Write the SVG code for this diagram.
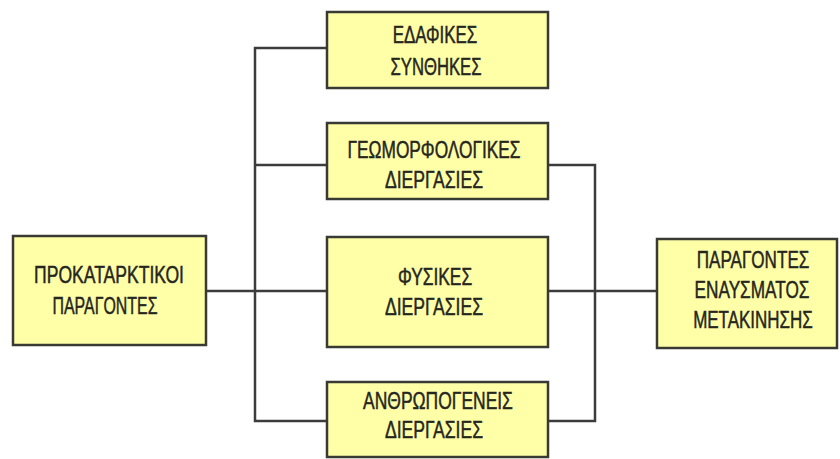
<svg xmlns="http://www.w3.org/2000/svg" width="840" height="459" viewBox="0 0 840 459">
<style>
.box{fill:#FFFFA8;stroke:#3a3a34;stroke-width:2.5}
.t{font-family:"Liberation Sans",Arial,sans-serif;font-size:24px;fill:#262620;stroke:#262620;stroke-width:0.5;text-anchor:middle}
.c{fill:none;stroke:#3c3c3c;stroke-width:2.5}
</style>
<rect width="840" height="459" fill="#fff"/>
<g id="connectors">
<polyline class="c" points="327,48 255,48 255,421 327,421"/>
<line class="c" x1="255" y1="165" x2="327" y2="165"/>
<line class="c" x1="206" y1="291" x2="327" y2="291"/>
<line class="c" x1="548" y1="291" x2="657" y2="291"/>
<polyline class="c" points="548,165 595,165 595,421 548,421"/>
</g>
<g id="n-prokatarktikoi">
<rect class="box" x="13" y="236" width="193" height="109"/>
<text class="t" transform="translate(109 0) scale(0.7 1)" x="0" y="283" textLength="214" lengthAdjust="spacingAndGlyphs">ΠΡΟΚΑΤΑΡΚΤΙΚΟΙ</text>
<text class="t" transform="translate(105 0) scale(0.7 1)" x="0" y="314" textLength="150" lengthAdjust="spacingAndGlyphs">ΠΑΡΑΓΟΝΤΕΣ</text>
</g>
<g id="n-edafikes">
<rect class="box" x="327" y="12" width="221" height="76"/>
<text class="t" transform="translate(435 0) scale(0.7 1)" x="0" y="43" textLength="121" lengthAdjust="spacingAndGlyphs">ΕΔΑΦΙΚΕΣ</text>
<text class="t" transform="translate(436 0) scale(0.7 1)" x="0" y="75" textLength="130" lengthAdjust="spacingAndGlyphs">ΣΥΝΘΗΚΕΣ</text>
</g>
<g id="n-geomorfologikes">
<rect class="box" x="327" y="123" width="221" height="76"/>
<text class="t" transform="translate(434 0) scale(0.7 1)" x="0" y="158" textLength="247" lengthAdjust="spacingAndGlyphs">ΓΕΩΜΟΡΦΟΛΟΓΙΚΕΣ</text>
<text class="t" transform="translate(434 0) scale(0.7 1)" x="0" y="188" textLength="140" lengthAdjust="spacingAndGlyphs">ΔΙΕΡΓΑΣΙΕΣ</text>
</g>
<g id="n-fysikes">
<rect class="box" x="327" y="237" width="221" height="110"/>
<text class="t" transform="translate(435 0) scale(0.7 1)" x="0" y="285" textLength="106" lengthAdjust="spacingAndGlyphs">ΦΥΣΙΚΕΣ</text>
<text class="t" transform="translate(434 0) scale(0.7 1)" x="0" y="315" textLength="140" lengthAdjust="spacingAndGlyphs">ΔΙΕΡΓΑΣΙΕΣ</text>
</g>
<g id="n-anthropogeneis">
<rect class="box" x="327" y="382" width="221" height="75"/>
<text class="t" transform="translate(438 0) scale(0.7 1)" x="0" y="409" textLength="214" lengthAdjust="spacingAndGlyphs">ΑΝΘΡΩΠΟΓΕΝΕΙΣ</text>
<text class="t" transform="translate(434 0) scale(0.7 1)" x="0" y="438" textLength="140" lengthAdjust="spacingAndGlyphs">ΔΙΕΡΓΑΣΙΕΣ</text>
</g>
<g id="n-paragontes-enaysmatos">
<rect class="box" x="657" y="239" width="180" height="109"/>
<text class="t" transform="translate(753 0) scale(0.7 1)" x="0" y="268" textLength="161" lengthAdjust="spacingAndGlyphs">ΠΑΡΑΓΟΝΤΕΣ</text>
<text class="t" transform="translate(752 0) scale(0.7 1)" x="0" y="298" textLength="164" lengthAdjust="spacingAndGlyphs">ΕΝΑΥΣΜΑΤΟΣ</text>
<text class="t" transform="translate(753 0) scale(0.7 1)" x="0" y="328" textLength="171" lengthAdjust="spacingAndGlyphs">ΜΕΤΑΚΙΝΗΣΗΣ</text>
</g>
</svg>
